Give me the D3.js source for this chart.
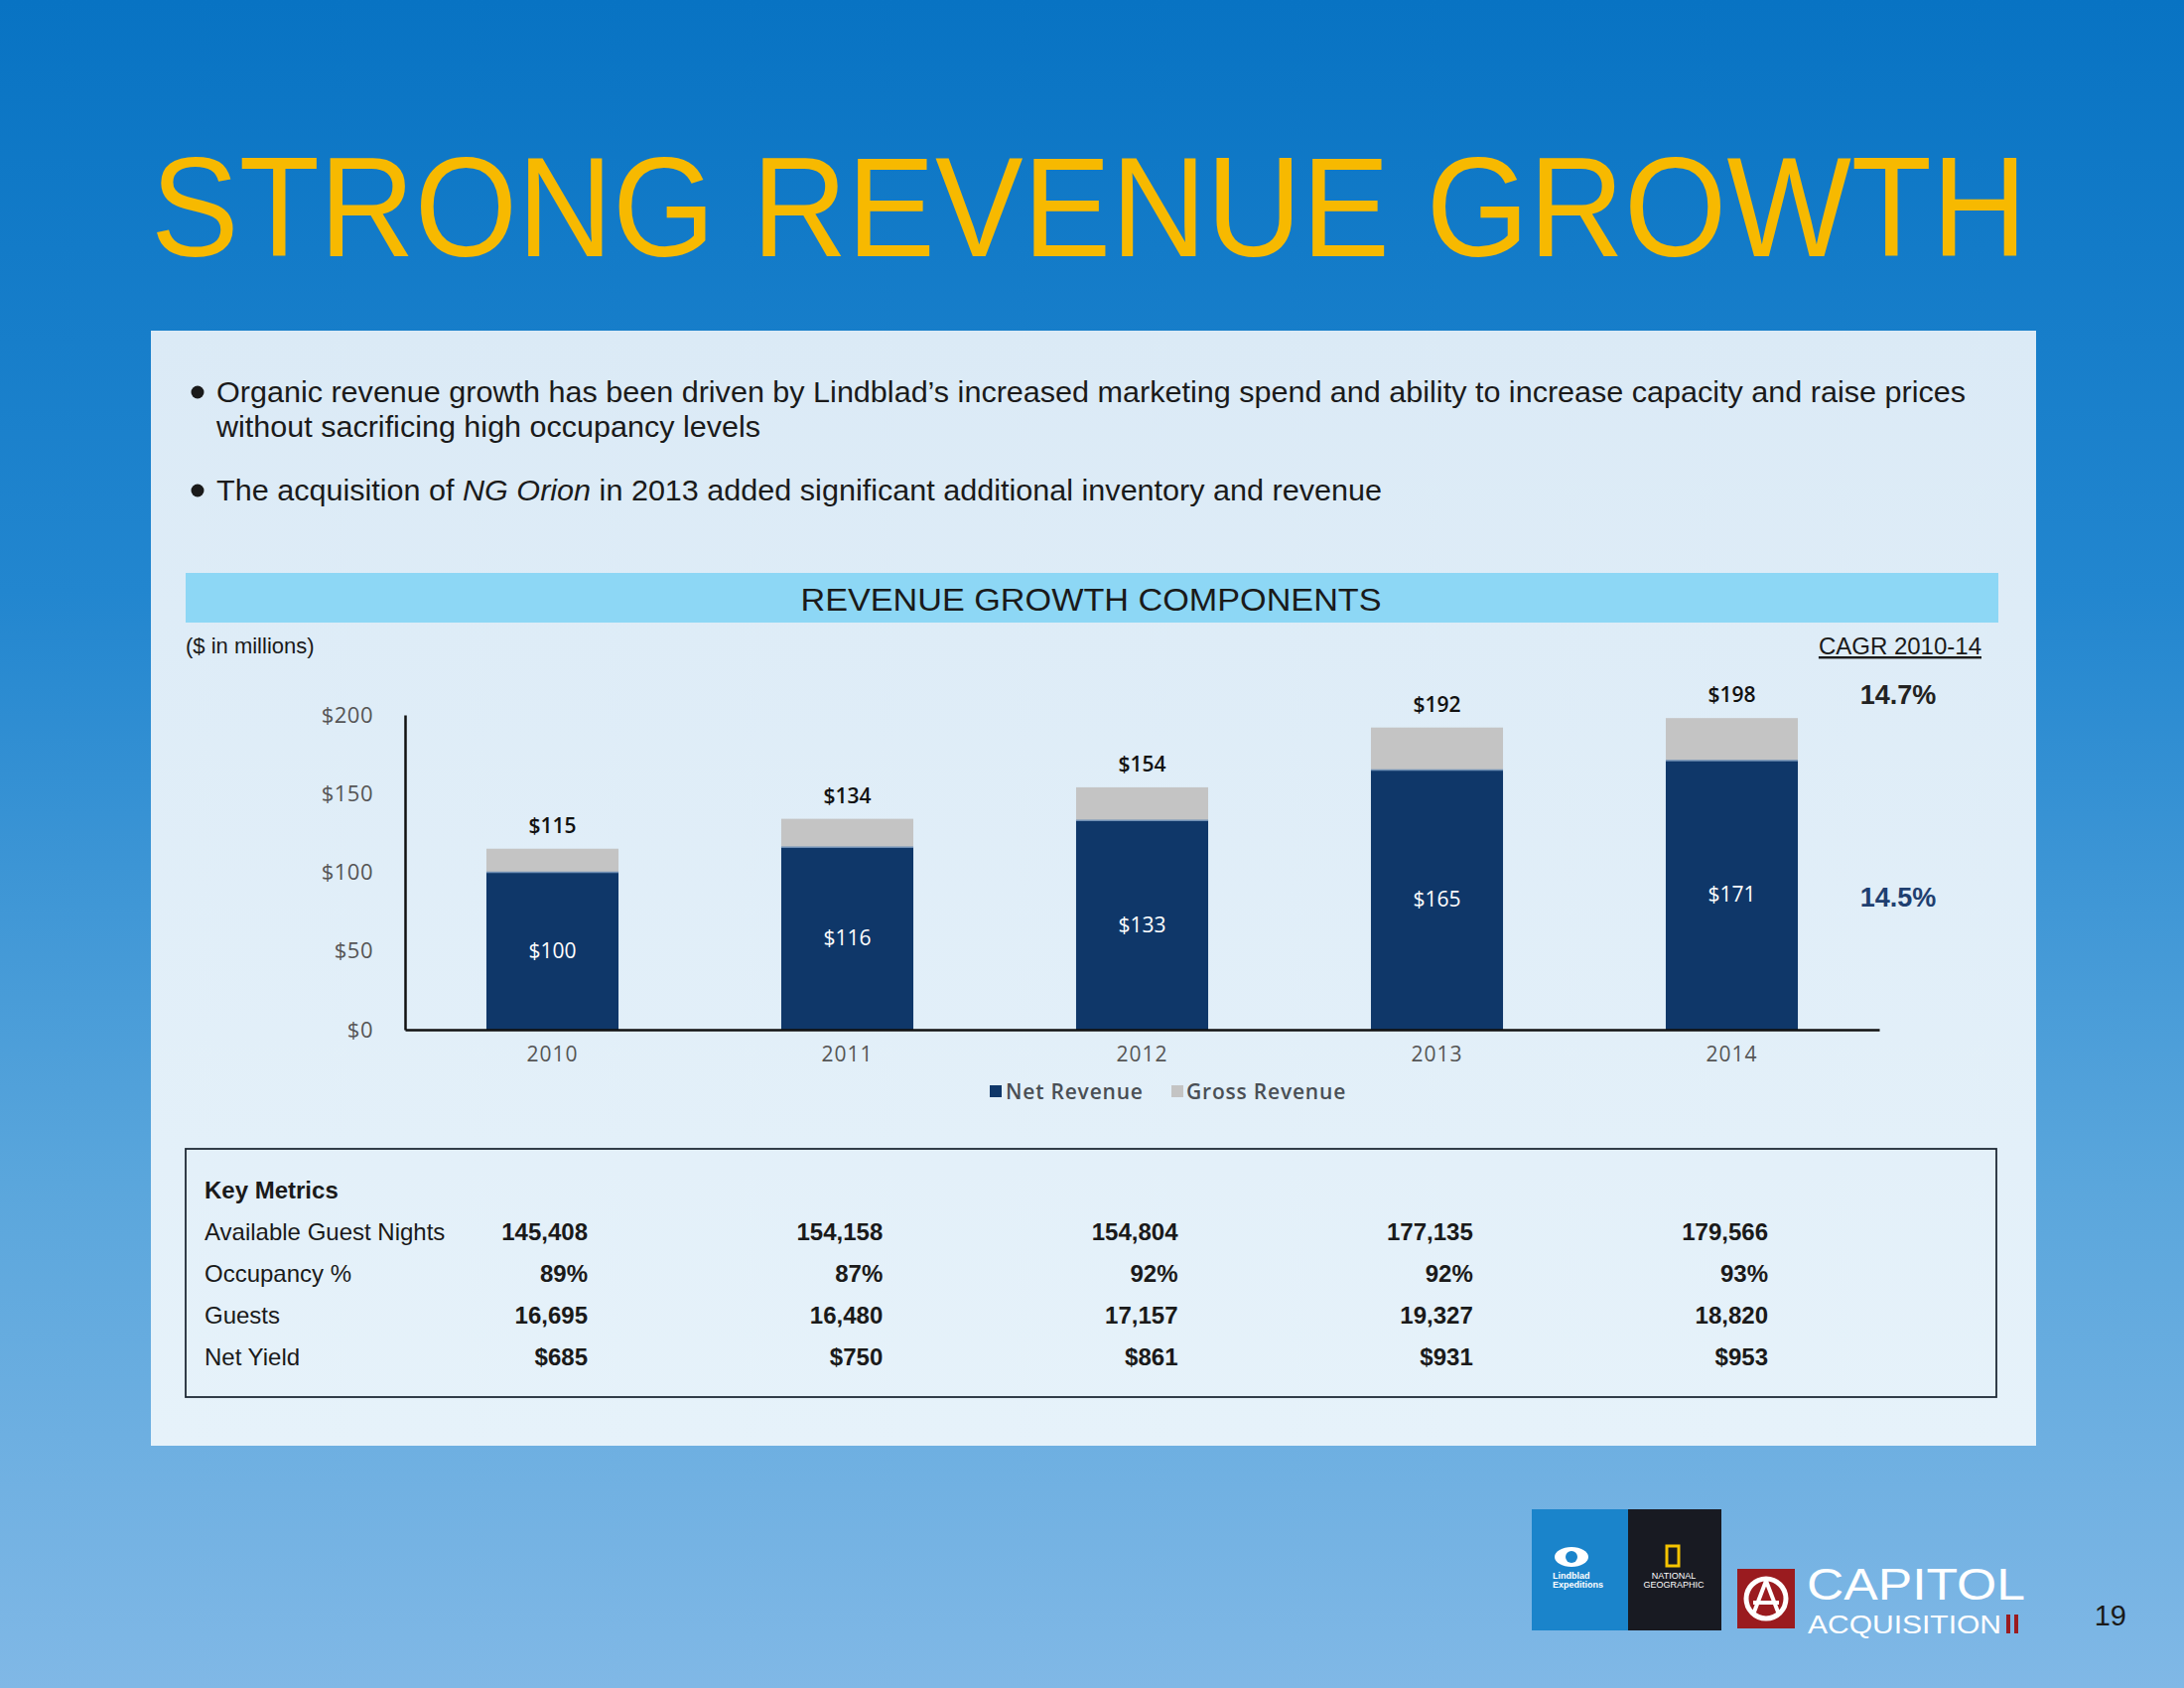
<!DOCTYPE html>
<html><head><meta charset="utf-8">
<script src="https://cdn.jsdelivr.net/npm/d3@7"></script>
<style>html,body{margin:0;padding:0;background:#fff}svg{display:block}</style>
</head><body>
<script>
const years = ["2010","2011","2012","2013","2014"];
const netRevenue = [100,116,133,165,171];
const grossRevenue = [115,134,154,192,198];
const yTicks = [0,50,100,150,200];
const cagrLabels = ["14.7%","14.5%"];
const metricNames = ["Available Guest Nights","Occupancy %","Guests","Net Yield"];
const availableGuestNights = ["145,408","154,158","154,804","177,135","179,566"];
const occupancy = ["89%","87%","92%","92%","93%"];
const guests = ["16,695","16,480","17,157","19,327","18,820"];
const netYield = ["$685","$750","$861","$931","$953"];

const W=2200,H=1700;
const svg=d3.select("body").append("svg").attr("width",W).attr("height",H);
const defs=svg.append("defs");
const bg=defs.append("linearGradient").attr("id","bg").attr("x1",0).attr("y1",0).attr("x2",0).attr("y2",1);
bg.append("stop").attr("offset","0").attr("stop-color","#0873c3");
bg.append("stop").attr("offset","0.35").attr("stop-color","#2286cf");
bg.append("stop").attr("offset","0.7").attr("stop-color","#5aa6dc");
bg.append("stop").attr("offset","1").attr("stop-color","#80b8e6");
svg.append("rect").attr("width",W).attr("height",H).attr("fill","url(#bg)");
const pg=defs.append("linearGradient").attr("id","pg").attr("x1",0).attr("y1",0).attr("x2",0).attr("y2",1);
pg.append("stop").attr("offset","0").attr("stop-color","#dbeaf6");
pg.append("stop").attr("offset","1").attr("stop-color","#e6f2fa");

const sans="'Liberation Sans', Arial, Helvetica, sans-serif";
const chartFont="'Open Sans', 'Noto Sans', sans-serif";

// Title
svg.append("text").attr("x",152).attr("y",258).attr("font-family",sans).attr("font-size",142)
  .attr("fill","#f7b900").attr("textLength",1890).attr("lengthAdjust","spacingAndGlyphs")
  .text("STRONG REVENUE GROWTH");

// Panel
svg.append("rect").attr("x",152).attr("y",333).attr("width",1899).attr("height",1123).attr("fill","url(#pg)");

// Bullets
const bullets=[
 {y:405,t:"Organic revenue growth has been driven by Lindblad’s increased marketing spend and ability to increase capacity and raise prices",len:1762,dot:true},
 {y:440,t:"without sacrificing high occupancy levels",len:548,dot:false},
];
bullets.forEach(b=>{
  if(b.dot) svg.append("circle").attr("cx",199).attr("cy",b.y-10).attr("r",6.5).attr("fill","#1a1a1a");
  svg.append("text").attr("x",218).attr("y",b.y).attr("font-family",sans).attr("font-size",30).attr("fill","#1a1a1a")
    .attr("textLength",b.len).attr("lengthAdjust","spacingAndGlyphs").text(b.t);
});
svg.append("circle").attr("cx",199).attr("cy",494).attr("r",6.5).attr("fill","#1a1a1a");
const b2=svg.append("text").attr("x",218).attr("y",504).attr("font-family",sans).attr("font-size",30).attr("fill","#1a1a1a")
  .attr("textLength",1174).attr("lengthAdjust","spacingAndGlyphs");
b2.append("tspan").text("The acquisition of ");
b2.append("tspan").attr("font-style","italic").text("NG Orion");
b2.append("tspan").text(" in 2013 added significant additional inventory and revenue");

// Band
svg.append("rect").attr("x",187).attr("y",577).attr("width",1826).attr("height",50).attr("fill","#8dd7f5");
svg.append("text").attr("x",1099).attr("y",615).attr("text-anchor","middle").attr("font-family",sans).attr("font-size",32)
  .attr("fill","#1a1a1a").attr("textLength",585).attr("lengthAdjust","spacingAndGlyphs").text("REVENUE GROWTH COMPONENTS");

svg.append("text").attr("x",187).attr("y",658).attr("font-family",sans).attr("font-size",22).attr("fill","#1a1a1a").text("($ in millions)");
svg.append("text").attr("x",1996).attr("y",659).attr("text-anchor","end").attr("font-family",sans).attr("font-size",24)
  .attr("fill","#1a1a1a").attr("text-decoration","underline").text("CAGR 2010-14");

// Scales
const x=d3.scaleBand().domain(years).range([408,1893]).paddingInner(0.552).paddingOuter(0.276);
const y=d3.scaleLinear().domain([0,200]).range([1037,720]);

// bars
const g=svg.append("g");
g.selectAll(".net").data(years).join("rect").attr("x",d=>x(d)).attr("width",x.bandwidth())
  .attr("y",(d,i)=>y(netRevenue[i])).attr("height",(d,i)=>y(0)-y(netRevenue[i])).attr("fill","#0f3769");
g.selectAll(".gross").data(years).join("rect").attr("x",d=>x(d)).attr("width",x.bandwidth())
  .attr("y",(d,i)=>y(grossRevenue[i])).attr("height",(d,i)=>y(netRevenue[i])-y(grossRevenue[i])).attr("fill","#c4c4c4");
g.selectAll(".sep").data(years).join("line").attr("x1",d=>x(d)).attr("x2",d=>x(d)+x.bandwidth())
  .attr("y1",(d,i)=>y(netRevenue[i])).attr("y2",(d,i)=>y(netRevenue[i])).attr("stroke","#6f8fb5").attr("stroke-width",1.5);

// labels
g.selectAll(".top").data(years).join("text").attr("x",d=>x(d)+x.bandwidth()/2).attr("y",(d,i)=>y(grossRevenue[i])-16)
  .attr("text-anchor","middle").attr("font-family",chartFont).attr("font-size",21).attr("font-weight",600).attr("fill","#111")
  .text((d,i)=>"$"+grossRevenue[i]);
g.selectAll(".in").data(years).join("text").attr("x",d=>x(d)+x.bandwidth()/2)
  .attr("y",(d,i)=>(y(netRevenue[i])+y(0))/2+7)
  .attr("text-anchor","middle").attr("font-family",chartFont).attr("font-size",21).attr("fill","#ffffff")
  .text((d,i)=>"$"+netRevenue[i]);

// axes
const ya=svg.append("g").attr("transform","translate(408,0)")
  .call(d3.axisLeft(y).tickValues(yTicks).tickSize(0).tickPadding(32).tickFormat(d=>"$"+d));
ya.select(".domain").attr("stroke","#111").attr("stroke-width",2.5);
ya.selectAll("text").attr("font-family",chartFont).attr("font-size",22).attr("fill","#555").attr("letter-spacing",0.5);
const xa=svg.append("g").attr("transform","translate(0,1037)")
  .call(d3.axisBottom(x).tickSize(0).tickPadding(17));
xa.select(".domain").attr("stroke","#111").attr("stroke-width",2.5);
xa.selectAll("text").attr("font-family",chartFont).attr("font-size",21).attr("fill","#555").attr("letter-spacing",1);

// CAGR values
svg.append("text").attr("x",1912).attr("y",709).attr("text-anchor","middle").attr("font-family",sans).attr("font-size",27)
  .attr("font-weight","bold").attr("fill","#222").text(cagrLabels[0]);
svg.append("text").attr("x",1912).attr("y",913).attr("text-anchor","middle").attr("font-family",sans).attr("font-size",27)
  .attr("font-weight","bold").attr("fill","#1f3f70").text(cagrLabels[1]);

// legend
const leg=svg.append("g").attr("font-family",chartFont).attr("font-size",21).attr("font-weight",600).attr("fill","#4a4f55");
leg.append("rect").attr("x",997).attr("y",1093).attr("width",12).attr("height",12).attr("fill","#0f3769");
leg.append("text").attr("x",1013).attr("y",1107).attr("letter-spacing",0.8).text("Net Revenue");
leg.append("rect").attr("x",1180).attr("y",1093).attr("width",12).attr("height",12).attr("fill","#c4c4c4");
leg.append("text").attr("x",1195).attr("y",1107).attr("letter-spacing",0.8).text("Gross Revenue");

// Key metrics box
svg.append("rect").attr("x",187).attr("y",1157).attr("width",1824).attr("height",250).attr("fill","none")
  .attr("stroke","#1f2a36").attr("stroke-width",1.8);
svg.append("text").attr("x",206).attr("y",1207).attr("font-family",sans).attr("font-size",24).attr("font-weight","bold")
  .attr("fill","#1a1a1a").text("Key Metrics");
const rows=[availableGuestNights,occupancy,guests,netYield];
const rowY=d3.scalePoint().domain(metricNames).range([1249,1375]);
const colX=d3.scalePoint().domain(years).range([592,1781]);
metricNames.forEach((m,ri)=>{
  svg.append("text").attr("x",206).attr("y",rowY(m)).attr("font-family",sans).attr("font-size",24).attr("fill","#1a1a1a").text(m);
  rows[ri].forEach((v,ci)=>{
    svg.append("text").attr("x",colX(years[ci])).attr("y",rowY(m)).attr("text-anchor","end").attr("font-family",sans)
      .attr("font-size",24).attr("font-weight","bold").attr("fill","#1a1a1a").text(v);
  });
});

// Logos
const lg=svg.append("g");
lg.append("rect").attr("x",1543).attr("y",1520).attr("width",97).attr("height",122).attr("fill","#1a84cb");
lg.append("rect").attr("x",1640).attr("y",1520).attr("width",94).attr("height",122).attr("fill","#181a22");
lg.append("ellipse").attr("cx",1583).attr("cy",1568).attr("rx",17).attr("ry",10).attr("fill","#fff");
lg.append("circle").attr("cx",1583).attr("cy",1568).attr("r",6).attr("fill","#1a84cb");
lg.append("text").attr("x",1564).attr("y",1590).attr("font-family",sans).attr("font-size",9).attr("font-weight","bold").attr("fill","#fff").text("Lindblad");
lg.append("text").attr("x",1564).attr("y",1599).attr("font-family",sans).attr("font-size",9).attr("font-weight","bold").attr("fill","#fff").text("Expeditions");
lg.append("rect").attr("x",1679).attr("y",1557).attr("width",12).attr("height",20).attr("fill","none").attr("stroke","#f5c400").attr("stroke-width",3);
lg.append("text").attr("x",1686).attr("y",1590).attr("text-anchor","middle").attr("font-family",sans).attr("font-size",9).attr("fill","#fff").text("NATIONAL");
lg.append("text").attr("x",1686).attr("y",1599).attr("text-anchor","middle").attr("font-family",sans).attr("font-size",9).attr("fill","#fff").text("GEOGRAPHIC");
lg.append("rect").attr("x",1750).attr("y",1580).attr("width",58).attr("height",60).attr("fill","#9a1b1f");
lg.append("circle").attr("cx",1779).attr("cy",1610).attr("r",20).attr("fill","none").attr("stroke","#fff").attr("stroke-width",5);
lg.append("path").attr("d","M1779,1592 L1766,1626 M1779,1592 L1792,1626 M1766,1614 L1792,1614").attr("stroke","#fff").attr("stroke-width",4).attr("fill","none");
lg.append("text").attr("x",1820).attr("y",1611).attr("font-family",sans).attr("font-size",44).attr("fill","#fff").attr("textLength",220).attr("lengthAdjust","spacingAndGlyphs").text("CAPITOL");
lg.append("text").attr("x",1821).attr("y",1645).attr("font-family",sans).attr("font-size",25).attr("fill","#fff").attr("textLength",195).attr("lengthAdjust","spacingAndGlyphs").text("ACQUISITION");
lg.append("rect").attr("x",2021).attr("y",1626).attr("width",4).attr("height",19).attr("fill","#9a1b1f");
lg.append("rect").attr("x",2029).attr("y",1626).attr("width",4).attr("height",19).attr("fill","#9a1b1f");
svg.append("text").attr("x",2142).attr("y",1637).attr("text-anchor","end").attr("font-family",sans).attr("font-size",29).attr("fill","#1a1a1a").text("19");
</script>
</body></html>
